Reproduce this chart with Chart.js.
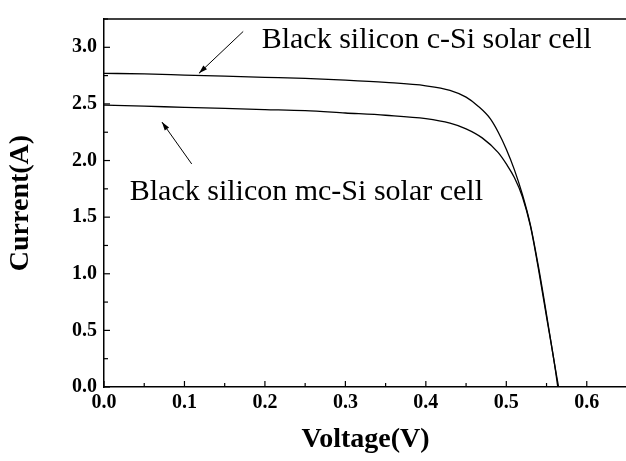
<!DOCTYPE html>
<html>
<head>
    <title>Black silicon I-V curves</title>
    <script src="https://cdn.jsdelivr.net/npm/chart.js@4.4.0/dist/chart.umd.min.js"></script>
    <style>
        body { margin: 0; overflow: hidden; background: white; }
    </style>
</head>
<body>
    <canvas id="ivChart" width="630" height="461"></canvas>
    <script>
        // c-Si cell (upper curve)
        const cSiVoltage = [0, 0.05, 0.1, 0.15, 0.2, 0.25, 0.3, 0.35, 0.4, 0.43, 0.45, 0.465, 0.48, 0.49, 0.5, 0.51, 0.52, 0.53, 0.54, 0.55, 0.56, 0.565];
        const cSiCurrent = [2.77, 2.765, 2.755, 2.745, 2.735, 2.725, 2.71, 2.69, 2.66, 2.62, 2.56, 2.48, 2.37, 2.25, 2.10, 1.92, 1.70, 1.43, 1.06, 0.64, 0.2, 0];
        // mc-Si cell (lower curve)
        const mcSiVoltage = [0, 0.05, 0.1, 0.15, 0.2, 0.25, 0.3, 0.35, 0.4, 0.43, 0.45, 0.47, 0.49, 0.5, 0.51, 0.52, 0.53, 0.54, 0.55, 0.56, 0.564];
        const mcSiCurrent = [2.49, 2.48, 2.47, 2.46, 2.45, 2.44, 2.42, 2.40, 2.37, 2.33, 2.28, 2.20, 2.07, 1.97, 1.85, 1.68, 1.42, 1.04, 0.62, 0.2, 0];

        // labels and arrows, in data units
        const labelTexts = ['Black silicon c-Si solar cell', 'Black silicon mc-Si solar cell'];
        const labelAt = [[0.196, 3.06], [0.032, 1.72]];
        const arrowFrom = [[0.173, 3.14], [0.109, 1.97]];
        const arrowTo = [[0.118, 2.77], [0.072, 2.34]];

        const toPoints = (xs, ys) => xs.map((x, i) => ({ x: x, y: ys[i] }));

        const tickFont = { family: 'Liberation Serif', size: 20, weight: 'bold' };
        const titleFont = { family: 'Liberation Serif', size: 28, weight: 'bold' };

        const extras = {
            id: 'extras',
            afterDraw(chart) {
                const ctx = chart.ctx;
                const xs = chart.scales.x, ys = chart.scales.y;
                const area = chart.chartArea;
                ctx.save();
                ctx.strokeStyle = '#000';
                ctx.lineWidth = 1.5;
                // top frame
                ctx.beginPath();
                ctx.moveTo(area.left, area.top);
                ctx.lineTo(area.right, area.top);
                ctx.stroke();
                // inward ticks
                ctx.lineWidth = 1.2;
                for (let v = 0; v <= 0.65 + 1e-9; v += 0.05) {
                    const px = xs.getPixelForValue(v);
                    const major = Math.round(v * 100) % 10 === 0;
                    ctx.beginPath();
                    ctx.moveTo(px, area.bottom);
                    ctx.lineTo(px, area.bottom - (major ? 6 : 4));
                    ctx.stroke();
                }
                for (let v = 0; v <= 3.25 + 1e-9; v += 0.25) {
                    const py = ys.getPixelForValue(v);
                    const major = Math.round(v * 100) % 50 === 0;
                    ctx.beginPath();
                    ctx.moveTo(area.left, py);
                    ctx.lineTo(area.left + (major ? 6 : 4), py);
                    ctx.stroke();
                }
                // annotation arrows
                ctx.lineWidth = 1;
                for (let i = 0; i < arrowFrom.length; i++) {
                    const x1 = xs.getPixelForValue(arrowFrom[i][0]), y1 = ys.getPixelForValue(arrowFrom[i][1]);
                    const x2 = xs.getPixelForValue(arrowTo[i][0]), y2 = ys.getPixelForValue(arrowTo[i][1]);
                    ctx.beginPath();
                    ctx.moveTo(x1, y1);
                    ctx.lineTo(x2, y2);
                    ctx.stroke();
                    const a = Math.atan2(y2 - y1, x2 - x1);
                    ctx.beginPath();
                    ctx.moveTo(x2, y2);
                    ctx.lineTo(x2 - 9 * Math.cos(a - 0.3), y2 - 9 * Math.sin(a - 0.3));
                    ctx.lineTo(x2 - 9 * Math.cos(a + 0.3), y2 - 9 * Math.sin(a + 0.3));
                    ctx.closePath();
                    ctx.fillStyle = '#000';
                    ctx.fill();
                }
                // annotation labels
                ctx.font = '30px "Liberation Serif"';
                ctx.fillStyle = '#000';
                ctx.textBaseline = 'middle';
                ctx.textAlign = 'left';
                for (let i = 0; i < labelTexts.length; i++) {
                    ctx.fillText(labelTexts[i], xs.getPixelForValue(labelAt[i][0]), ys.getPixelForValue(labelAt[i][1]));
                }
                ctx.restore();
            }
        };

        new Chart(document.getElementById('ivChart'), {
            type: 'line',
            data: {
                datasets: [{
                    label: 'c-Si',
                    data: toPoints(cSiVoltage, cSiCurrent),
                    borderColor: '#000',
                    borderWidth: 1.3,
                    pointRadius: 0,
                    cubicInterpolationMode: 'monotone'
                }, {
                    label: 'mc-Si',
                    data: toPoints(mcSiVoltage, mcSiCurrent),
                    borderColor: '#000',
                    borderWidth: 1.3,
                    pointRadius: 0,
                    cubicInterpolationMode: 'monotone'
                }]
            },
            options: {
                responsive: false,
                animation: false,
                layout: { padding: { top: 10, right: 3, left: 0, bottom: 0 } },
                plugins: { legend: { display: false }, tooltip: { enabled: false } },
                scales: {
                    x: {
                        type: 'linear',
                        min: 0,
                        max: 0.65,
                        afterFit: s => { s.height = 74; },
                        afterBuildTicks: s => { s.ticks = [0, 0.1, 0.2, 0.3, 0.4, 0.5, 0.6].map(v => ({ value: v })); },
                        grid: { display: false, drawTicks: false },
                        border: { display: true, color: '#000', width: 1.5 },
                        ticks: {
                            color: '#000',
                            font: tickFont,
                            padding: 4,
                            maxRotation: 0,
                            callback: v => v.toFixed(1)
                        },
                        title: { display: true, text: 'Voltage(V)', color: '#000', font: titleFont, padding: { top: 6 } }
                    },
                    y: {
                        type: 'linear',
                        min: 0,
                        max: 3.25,
                        afterFit: s => { s.width = 104; },
                        afterBuildTicks: s => { s.ticks = [0, 0.5, 1.0, 1.5, 2.0, 2.5, 3.0].map(v => ({ value: v })); },
                        grid: { display: false, drawTicks: false },
                        border: { display: true, color: '#000', width: 1.5 },
                        ticks: {
                            color: '#000',
                            font: tickFont,
                            padding: 7,
                            callback: v => v.toFixed(1)
                        },
                        title: { display: true, text: 'Current(A)', color: '#000', font: titleFont, padding: { bottom: 0, top: 4 } }
                    }
                }
            },
            plugins: [extras]
        });
    </script>
</body>
</html>
